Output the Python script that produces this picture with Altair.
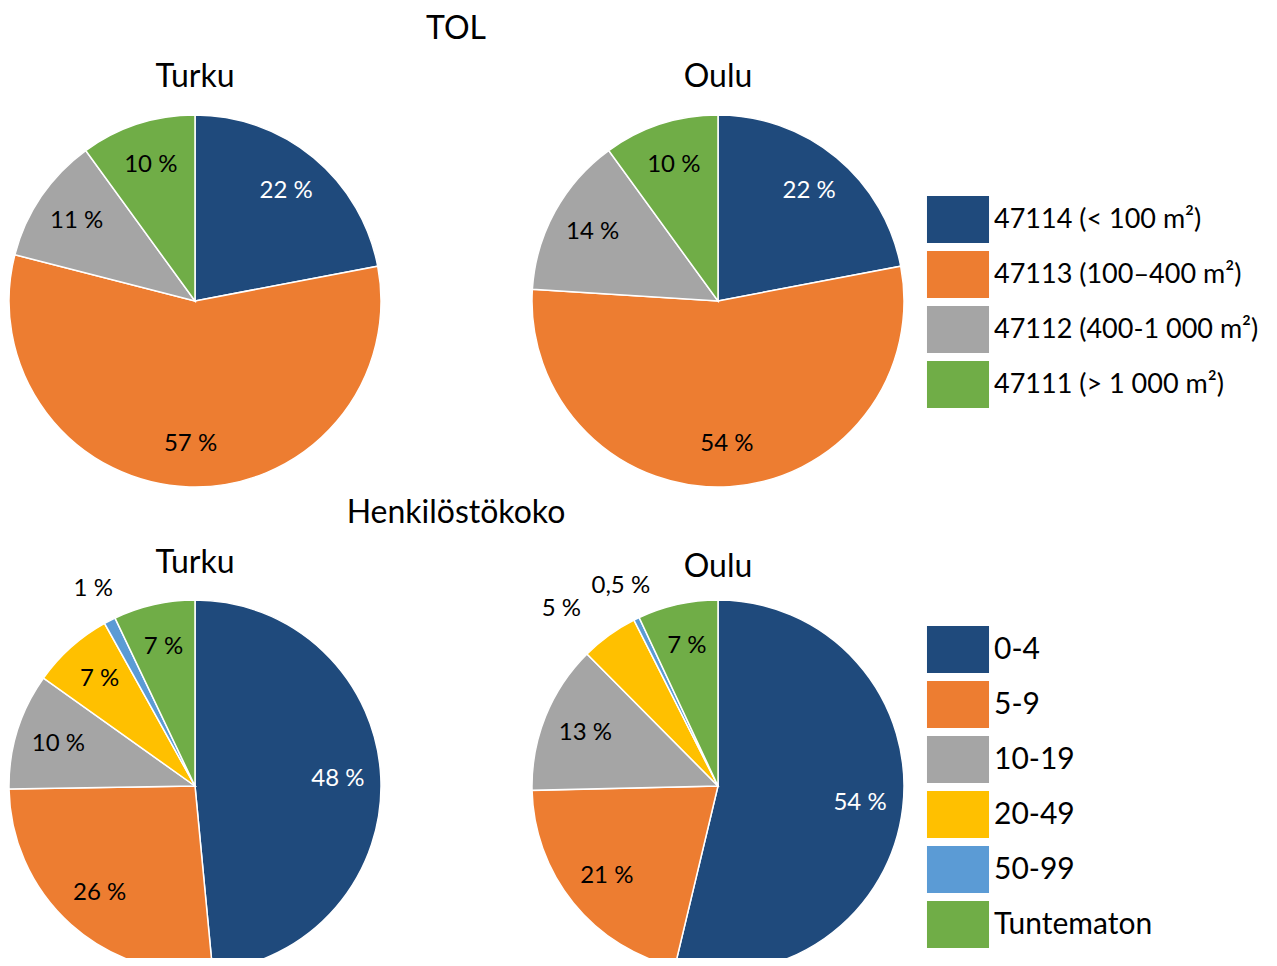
import altair as alt
import pandas as pd

# ---------------- data ----------------
tol_categories = ["47114 (< 100 m²)", "47113 (100–400 m²)", "47112 (400-1 000 m²)", "47111 (> 1 000 m²)"]
tol_turku = [22, 57, 11, 10]
tol_oulu = [22, 54, 14, 10]
tol_colors = ["#1F4A7C", "#ED7D31", "#A5A5A5", "#70AD47"]

staff_categories = ["0-4", "5-9", "10-19", "20-49", "50-99", "Tuntematon"]
staff_turku = [48, 26, 10, 7, 1, 7]
staff_oulu = [54, 21, 13, 5, 0.5, 7]
staff_colors = ["#1F4A7C", "#ED7D31", "#A5A5A5", "#FFC000", "#5B9BD5", "#70AD47"]

section_titles = ["TOL", "Henkilöstökoko"]
city_titles = ["Turku", "Oulu"]

FONT = "Lato"
R = 186


def fmt(v):
    return f"{v:g}".replace(".", ",") + " %"


def frame(cats, vals):
    return pd.DataFrame({
        "category": cats,
        "value": vals,
        "idx": list(range(len(cats))),
        "label": [fmt(v) for v in vals],
    })


def make_legend(y, size):
    return alt.Legend(
        orient="none", legendX=926.5, legendY=y, title=None,
        symbolType="M-1.32,-1H1.32V1H-1.32Z", symbolSize=2209,
        symbolStrokeWidth=0, symbolOpacity=1,
        labelFont=FONT, labelFontSize=size, labelColor="black",
        labelOffset=12.5, labelLimit=400, rowPadding=8, padding=0,
    )


def pie(df, cx, cy, domain, colors, legend_y, legend_size):
    base = alt.Chart(df).encode(
        theta=alt.Theta("value:Q", stack=True),
        order=alt.Order("idx:Q", sort="ascending"),
        x=alt.value(cx),
        y=alt.value(cy),
    )
    arc = base.mark_arc(outerRadius=R, stroke="white", strokeWidth=1.5).encode(
        color=alt.Color("category:N", sort=domain,
                        scale=alt.Scale(domain=domain, range=colors),
                        legend=make_legend(legend_y, legend_size))
    )
    # labels inside the slices
    inside = base.transform_calculate(
        t="datum.value > 5 ? datum.label : ''"
    ).mark_text(radius=143, font=FONT, fontSize=24).encode(
        text="t:N",
        color=alt.condition("datum.idx == 0", alt.value("white"), alt.value("black")),
    )
    # very small slices: label just outside the rim
    outside = base.transform_calculate(
        t="datum.value <= 2 ? datum.label : ''"
    ).mark_text(radius=222, font=FONT, fontSize=24, color="black").encode(
        text="t:N"
    )
    # small slices: label pulled to the left (leader-line style)
    side = base.transform_calculate(
        t="datum.value > 2 && datum.value <= 5 ? datum.label : ''"
    ).mark_text(radius=205, font=FONT, fontSize=24, color="black",
                align="right", dx=-17, dy=-11).encode(
        text="t:N"
    )
    return alt.layer(arc, inside, outside, side).resolve_scale(theta="independent")


def title(text, x, y):
    return alt.Chart(pd.DataFrame({"t": [text]})).mark_text(
        font=FONT, fontSize=32, color="black", align="center", baseline="alphabetic"
    ).encode(text="t:N", x=alt.value(x), y=alt.value(y))


tol_group = alt.layer(
    pie(frame(tol_categories, tol_turku), 187, 293, tol_categories, tol_colors, 188, 27),
    pie(frame(tol_categories, tol_oulu), 710, 293, tol_categories, tol_colors, 188, 27),
).resolve_scale(theta="independent")

staff_group = alt.layer(
    pie(frame(staff_categories, staff_turku), 187, 778, staff_categories, staff_colors, 618, 30),
    pie(frame(staff_categories, staff_oulu), 710, 778, staff_categories, staff_colors, 618, 30),
).resolve_scale(theta="independent")

titles = alt.layer(
    title(section_titles[0], 448, 31),
    title(city_titles[0], 187, 79),
    title(city_titles[1], 710, 79),
    title(section_titles[1], 448, 515),
    title(city_titles[0], 187, 565),
    title(city_titles[1], 710, 569),
)

chart = alt.layer(tol_group, staff_group, titles).resolve_scale(
    color="independent", theta="independent"
).properties(
    width=1261, height=950,
    autosize=alt.AutoSizeParams(type="none"),
    padding=0,
).configure_view(stroke=None)

chart.save("out.html", embed_options={"renderer": "svg", "actions": False})
